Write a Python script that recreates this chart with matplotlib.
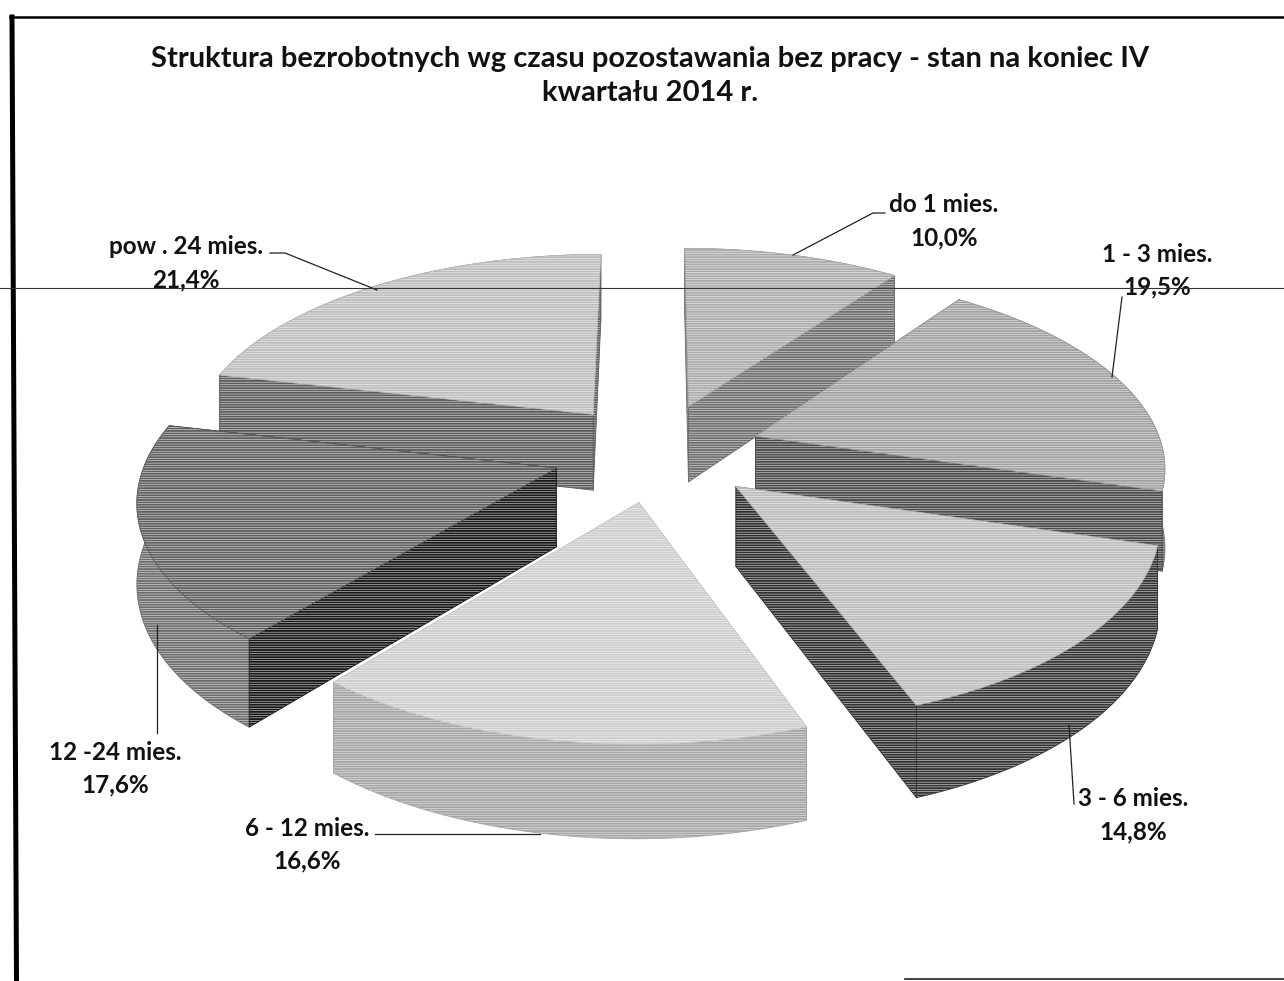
import numpy as np
from matplotlib import pyplot as plt

# chart data
categories = ['do 1 mies.', '1 - 3 mies.', '3 - 6 mies.', '6 - 12 mies.', '12 -24 mies.', 'pow . 24 mies.']
values = [10.0, 19.5, 14.8, 16.6, 17.6, 21.4]
percent_labels = ['10,0%', '19,5%', '14,8%', '16,6%', '17,6%', '21,4%']
title = 'Struktura bezrobotnych wg czasu pozostawania bez pracy - stan na koniec IV\nkwartału 2014 r.'

# greys per slice: top, outer side, cut side
top_colors = ['#ababab', '#a0a0a0', '#bcbcbc', '#cdcdcd', '#5f5f5f', '#bdbdbd']
arc_colors = ['#8a8a8a', '#6a6a6a', '#343434', '#a4a4a4', '#6c6c6c', '#707070']
cut_colors = ['#6e6e6e', '#4a4a4a', '#303030', '#a4a4a4', '#181818', '#5c5c5c']

# where labels and their leader lines sit on the page
label_pos = [(944, 205), (1157, 254), (1133, 799), (307, 828), (115, 752), (186, 247)]
leaders = [[(793, 255), (873, 213), (885, 213)],
           [(1112, 377), (1122, 297)],
           [(1069, 725), (1074, 804)],
           [(375, 834), (540, 834)],
           [(157, 625), (157, 733)],
           [(270, 253), (285, 253), (377, 290)]]

# fake 3d view
cx, cy = 657, 452
rx = 408
ry = 192
persp = 0.14
depth = 78
explode = 0.258

plt.rcParams['font.family'] = ['Lato', 'DejaVu Sans']
plt.rcParams['hatch.linewidth'] = 0.35
plt.rcParams['hatch.color'] = 'white'

fig = plt.figure(figsize=(12.84, 9.81), dpi=100)
ax = fig.add_axes([0, 0, 1, 1])
ax.set_xlim(0, 1284)
ax.set_ylim(981, 0)
ax.axis('off')


def project(gx, gy, z=0):
    s = 1 / (1 + persp * gy)
    return cx + rx * gx * s, cy - ry * gy * s + depth * z * s


def draw_face(pts, color):
    xs, ys = zip(*pts)
    ax.fill(xs, ys, facecolor=color, edgecolor='none', zorder=2)
    ax.fill(xs, ys, facecolor='none', edgecolor='white', hatch='-------', lw=0, zorder=2)
    ax.plot(xs + xs[:1], ys + ys[:1], color=color, lw=0.6, zorder=2)


# slices go clockwise from twelve o'clock
edges = np.cumsum([0] + values) / np.sum(values) * 2 * np.pi
slices = []
for i in range(len(values)):
    slices.append((edges[i], edges[i + 1], i))
# paint the far slices first
slices.sort(key=lambda t: -np.cos((t[0] + t[1]) / 2))

for a0, a1, i in slices:
    mid = (a0 + a1) / 2
    ox, oy = explode * np.sin(mid), explode * np.cos(mid)
    th = np.linspace(a0, a1, 60)
    gx = ox + np.sin(th)
    gy = oy + np.cos(th)

    top = [project(ox, oy)] + [project(x, y) for x, y in zip(gx, gy)]
    arc_top = [project(x, y) for x, y in zip(gx, gy)]
    arc_low = [project(x, y, 1) for x, y in zip(gx, gy)]
    faces = [
        (np.mean(gy), arc_top + arc_low[::-1], arc_colors[i]),
        ((oy + gy[0]) / 2, [project(ox, oy), arc_top[0], arc_low[0], project(ox, oy, 1)], cut_colors[i]),
        ((oy + gy[-1]) / 2, [project(ox, oy), arc_top[-1], arc_low[-1], project(ox, oy, 1)], cut_colors[i]),
    ]
    faces.sort(key=lambda f: -f[0])
    for _, pts, color in faces:
        draw_face(pts, color)
    draw_face(top, top_colors[i])

# labels
for i, name in enumerate(categories):
    x, y = label_pos[i]
    ax.text(x, y, name, ha='center', va='center', fontsize=17.5, fontweight='bold', color='#111111', zorder=5)
    ax.text(x, y + 33, percent_labels[i], ha='center', va='center', fontsize=17.5, fontweight='bold',
            color='#111111', zorder=5)
    lx, ly = zip(*leaders[i])
    ax.plot(lx, ly, color='#222222', lw=0.9, zorder=4)

ax.text(650, 76, title, ha='center', va='center', fontsize=21, fontweight='bold', color='#111111',
        linespacing=1.4, zorder=5)

# frame of the scanned page
ax.plot([12, 16.5], [17, 981], color='black', lw=3.6, zorder=6)
ax.plot([10, 1284], [17, 17], color='black', lw=1.8, zorder=6)
ax.plot([905, 1284], [979, 979], color='#222222', lw=1.2, zorder=6)
ax.plot([0, 1284], [288, 288], color='#333333', lw=0.8, zorder=6)

fig.savefig('out.png', dpi=100)
